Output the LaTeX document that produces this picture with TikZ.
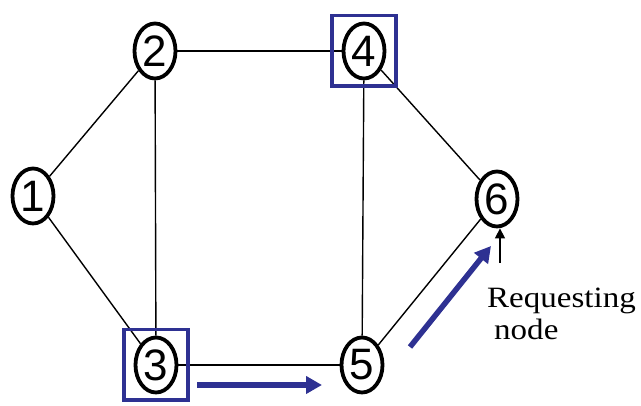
\documentclass[tikz,border=0pt]{standalone}
\usepackage{fontspec}
\setmainfont{Liberation Serif}
\newfontfamily\digitfont{Liberation Sans}
\usetikzlibrary{shapes.geometric,fit,arrows.meta}
\definecolor{hlblue}{RGB}{46,49,146}
\tikzset{
  router/.style={ellipse, draw, line width=3.8pt, minimum width=41pt,
    minimum height=55pt, inner sep=0pt,
    font=\digitfont\fontsize{44}{44}\selectfont},
  link/.style={line width=1.4pt},
  hlbox/.style={draw=hlblue, line width=3.8pt, inner xsep=9.5pt, inner ysep=6pt},
  flow/.style={draw=hlblue, line width=5.5pt, -{Triangle[length=16pt,width=17pt]}},
  reqarrow/.style={line width=1.4pt, -{Triangle[length=10pt,width=10pt]}},
  reqtext/.style={align=left, inner sep=0pt, font=\fontsize{29.5}{32}\selectfont}
}
\begin{document}
\begin{tikzpicture}[x=1pt, y=1pt]
  \useasboundingbox (0,0) rectangle (641,406);
  % routers
  \node (n1) [router] at (33,210) {1};
  \node (n2) [router] at (155,355) {2};
  \node (n4) [router] at (364,355) {4};
  \node (n6) [router] at (497,207) {6};
  \node (n3) [router] at (156,41) {3};
  \node (n5) [router] at (362,41) {5};
  % links
  \draw[link] (n1) -- (n2);
  \draw[link] (n1) -- (n3);
  \draw[link] (n2) -- (n3);
  \draw[link] (n2) -- (n4);
  \draw[link] (n3) -- (n5);
  \draw[link] (n4) -- (n5);
  \draw[link] (n4) -- (n6);
  \draw[link] (n5) -- (n6);
  % highlighted routers
  \node (box4) [hlbox, fit=(n4)] {};
  \node (box3) [hlbox, fit=(n3)] {};
  % forwarding direction
  \coordinate (f1s) at (197,21);
  \coordinate (f1e) at (322,21);
  \coordinate (f2s) at (410,59);
  \coordinate (f2e) at (491,160);
  \draw[flow] (f1s) -- (f1e);
  \draw[flow] (f2s) -- (f2e);
  % requester
  \coordinate (reqfoot) at (500,143);
  \draw[reqarrow] (reqfoot) -- (reqfoot |- n6.south);
  \node (reqlabel) [reqtext, anchor=base west] at (487,66)
    {\scalebox{1.12}[1]{Requesting}\\\hspace*{7pt}\scalebox{1.12}[1]{node}};
\end{tikzpicture}
\end{document}
